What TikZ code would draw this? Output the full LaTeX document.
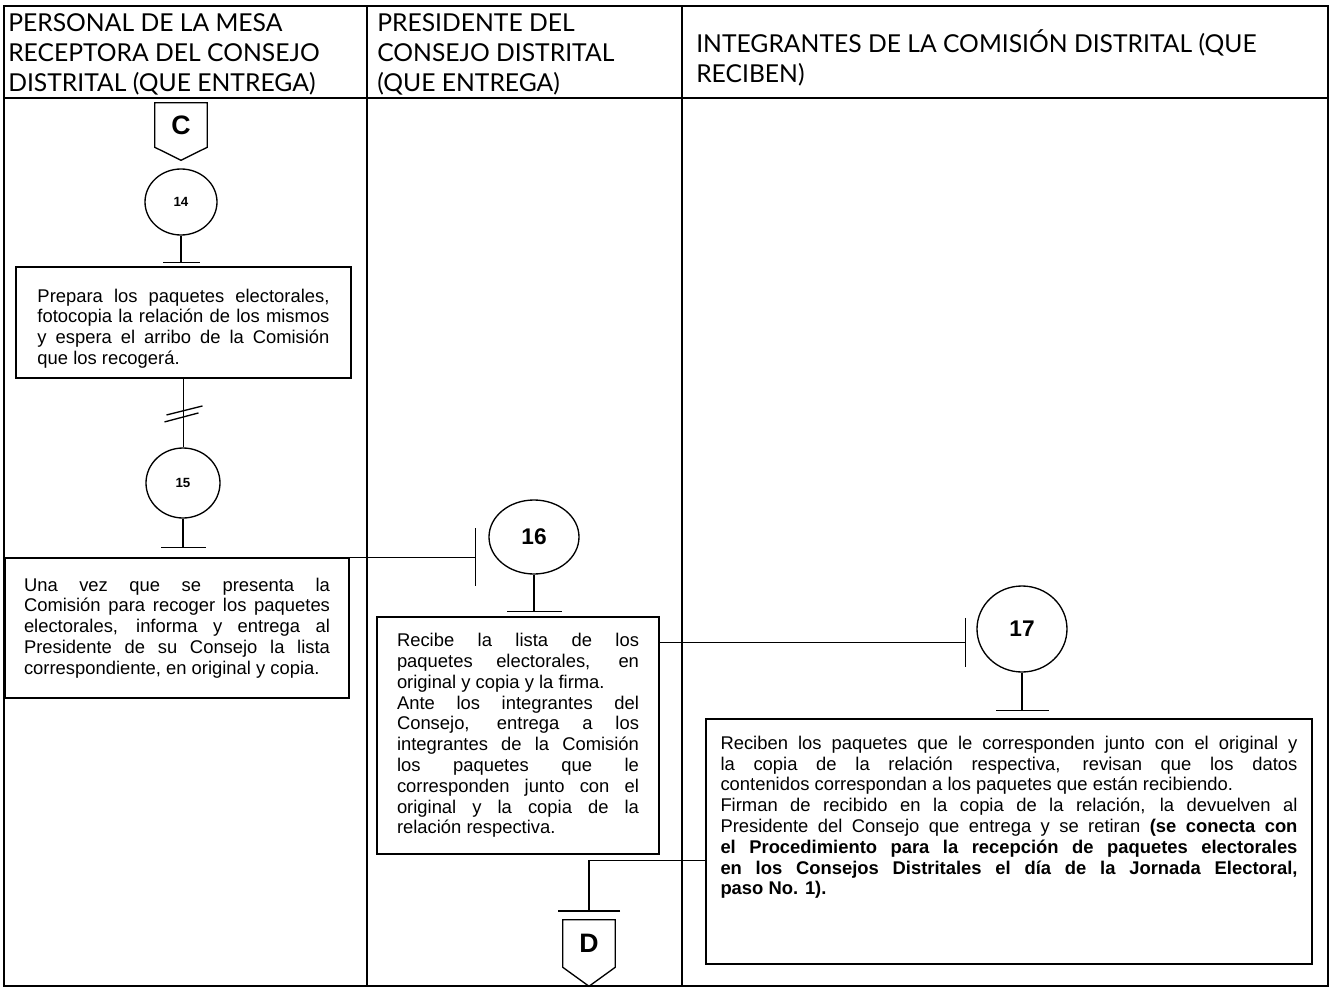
\documentclass[tikz,border=0pt]{standalone}
\usepackage{fontspec}
\setmainfont{Liberation Sans}
\newfontfamily\headfont{Lato}
\usetikzlibrary{arrows.meta, positioning, calc, shapes.geometric}
\tikzset{
    lane/.style={line width=1pt},
    headtext/.style={font=\headfont\fontsize{18.5}{22.5}\selectfont, align=left, anchor=west, inner sep=0pt},
    stepbox/.style={draw, line width=1pt, align=justify, inner ysep=0pt, font=\fontsize{13.8}{15.6}\selectfont},
    stepnum/.style={ellipse, draw, line width=1pt, inner sep=0pt, font=\bfseries\fontsize{10}{12}\selectfont},
    bignum/.style={stepnum, font=\bfseries\fontsize{17}{20}\selectfont},
    offpage/.style={inner sep=0pt, minimum width=39pt, font=\bfseries\fontsize{20}{24}\selectfont},
    flowtee/.style={line width=1pt, -{Bar[width=#1]}}
}

\begin{document}
\begin{tikzpicture}[x=0.75pt, y=-0.75pt]
    \useasboundingbox (0,0) rectangle (1329,988);

    % Table of the three lanes
    \draw[lane] (4,6) rectangle (1328,986);
    \draw[lane] (4,98) -- (1328,98);
    \draw[lane] (367,6) -- (367,986);
    \draw[lane] (682,6) -- (682,986);

    \node[headtext] (h1) at (8,54) {PERSONAL DE LA MESA\\RECEPTORA DEL CONSEJO\\DISTRITAL (QUE ENTREGA)};
    \node[headtext] (h2) at (377,54) {PRESIDENTE DEL\\CONSEJO DISTRITAL\\(QUE ENTREGA)};
    \node[headtext] (h3) at (696,58) {INTEGRANTES DE LA COMISIÓN DISTRITAL (QUE\\RECIBEN)};

    % First lane
    \node[offpage, minimum height=33pt] (C) at (181,125) {C};
    \draw[lane] (C.north west) -- (C.north east) -- (C.south east) -- ($(C.south)+(0,13)$) -- (C.south west) -- cycle;
    \node[stepnum, minimum width=54pt, minimum height=49.5pt] (n14) at (181,202) {14};
    \node[stepbox, text width=219pt, inner xsep=16.125pt, minimum width=251.25pt, minimum height=83.25pt] (p14) at (183.5,322.5)
        {\rule{0pt}{19pt}Prepara los paquetes electorales,\linebreak fotocopia la relación de los mismos\linebreak y espera el arribo de la Comisión\linebreak que los recogerá.};
    \node[stepnum, minimum width=55.5pt, minimum height=52.5pt] (n15) at (183,483) {15};
    \node[stepbox, text width=229.5pt, inner xsep=14.25pt, minimum width=258pt, minimum height=105pt] (p15) at (177,628)
        {Una vez que se presenta la\linebreak Comisión para recoger los paquetes\linebreak electorales, informa y entrega al\linebreak Presidente de su Consejo la lista\linebreak correspondiente, en original y copia.};

    % Second lane
    \node[bignum, minimum width=67.5pt, minimum height=55.5pt] (n16) at (534,537) {16};
    \node[stepbox, text width=181.5pt, inner xsep=15pt, minimum width=211.5pt, minimum height=177.75pt] (p16) at (518,735.5)
        {Recibe la lista de los\linebreak paquetes electorales, en\linebreak original y copia y la firma.\\
         Ante los integrantes del\linebreak Consejo, entrega a los\linebreak integrantes de la Comisión\linebreak los paquetes que le\linebreak corresponden junto con el\linebreak original y la copia de la\linebreak relación respectiva.};
    \node[offpage, minimum height=35.25pt] (D) at (589,943.5) {D};
    \draw[lane] (D.north west) -- (D.north east) -- (D.south east) -- ($(D.south)+(0,19)$) -- (D.south west) -- cycle;

    % Third lane
    \node[bignum, minimum width=67.5pt, minimum height=64.5pt] (n17) at (1022,629) {17};
    \node[stepbox, text width=432.75pt, inner xsep=10.875pt, minimum width=454.5pt, minimum height=183.75pt] (p17) at (1009,841.5)
        {Reciben los paquetes que le corresponden junto con el original y\linebreak la copia de la relación respectiva, revisan que los datos\linebreak contenidos correspondan a los paquetes que están recibiendo.\\
         Firman de recibido en la copia de la relación, la devuelven al\linebreak Presidente del Consejo que entrega y se retiran \textbf{(se conecta con\linebreak el Procedimiento para la recepción de paquetes electorales\linebreak en los Consejos Distritales el día de la Jornada Electoral,\linebreak paso No. 1).}\rule[-39pt]{0pt}{0pt}};

    % Connectors
    \draw[flowtee=27.75pt, shorten >=2.25pt] (n14) -- (n14 |- p14.north);
    \draw[lane] (p14.south) -- (p14.south |- n15.north);
    \coordinate (brk) at ($(p14.south)!0.47!(p14.south |- n15.north)$);
    \draw[lane] ($(brk)+(-17,4)$) -- ($(brk)+(19,-5)$);
    \draw[lane] ($(brk)+(-19,11)$) -- ($(brk)+(15,2)$);
    \draw[flowtee=33.75pt, shorten >=6.75pt] (n15) -- (n15 |- p15.north);
    \draw[flowtee=43.5pt, shorten >=9pt] (p15.north east) -- (p15.north east -| n16.west);
    \draw[flowtee=41.25pt, shorten >=3pt] (n16) -- (n16 |- p16.north);
    \coordinate (o16) at ($(p16.north east)+(0,26)$);
    \draw[flowtee=36.75pt, shorten >=7.5pt] (o16) -- (o16 -| n17.west);
    \draw[flowtee=39.75pt, shorten >=5.25pt] (n17) -- (n17 |- p17.north);
    \draw[flowtee=46.5pt, shorten >=6pt] ($(p17.north west)+(0,142)$) -| (D.north);
\end{tikzpicture}
\end{document}
